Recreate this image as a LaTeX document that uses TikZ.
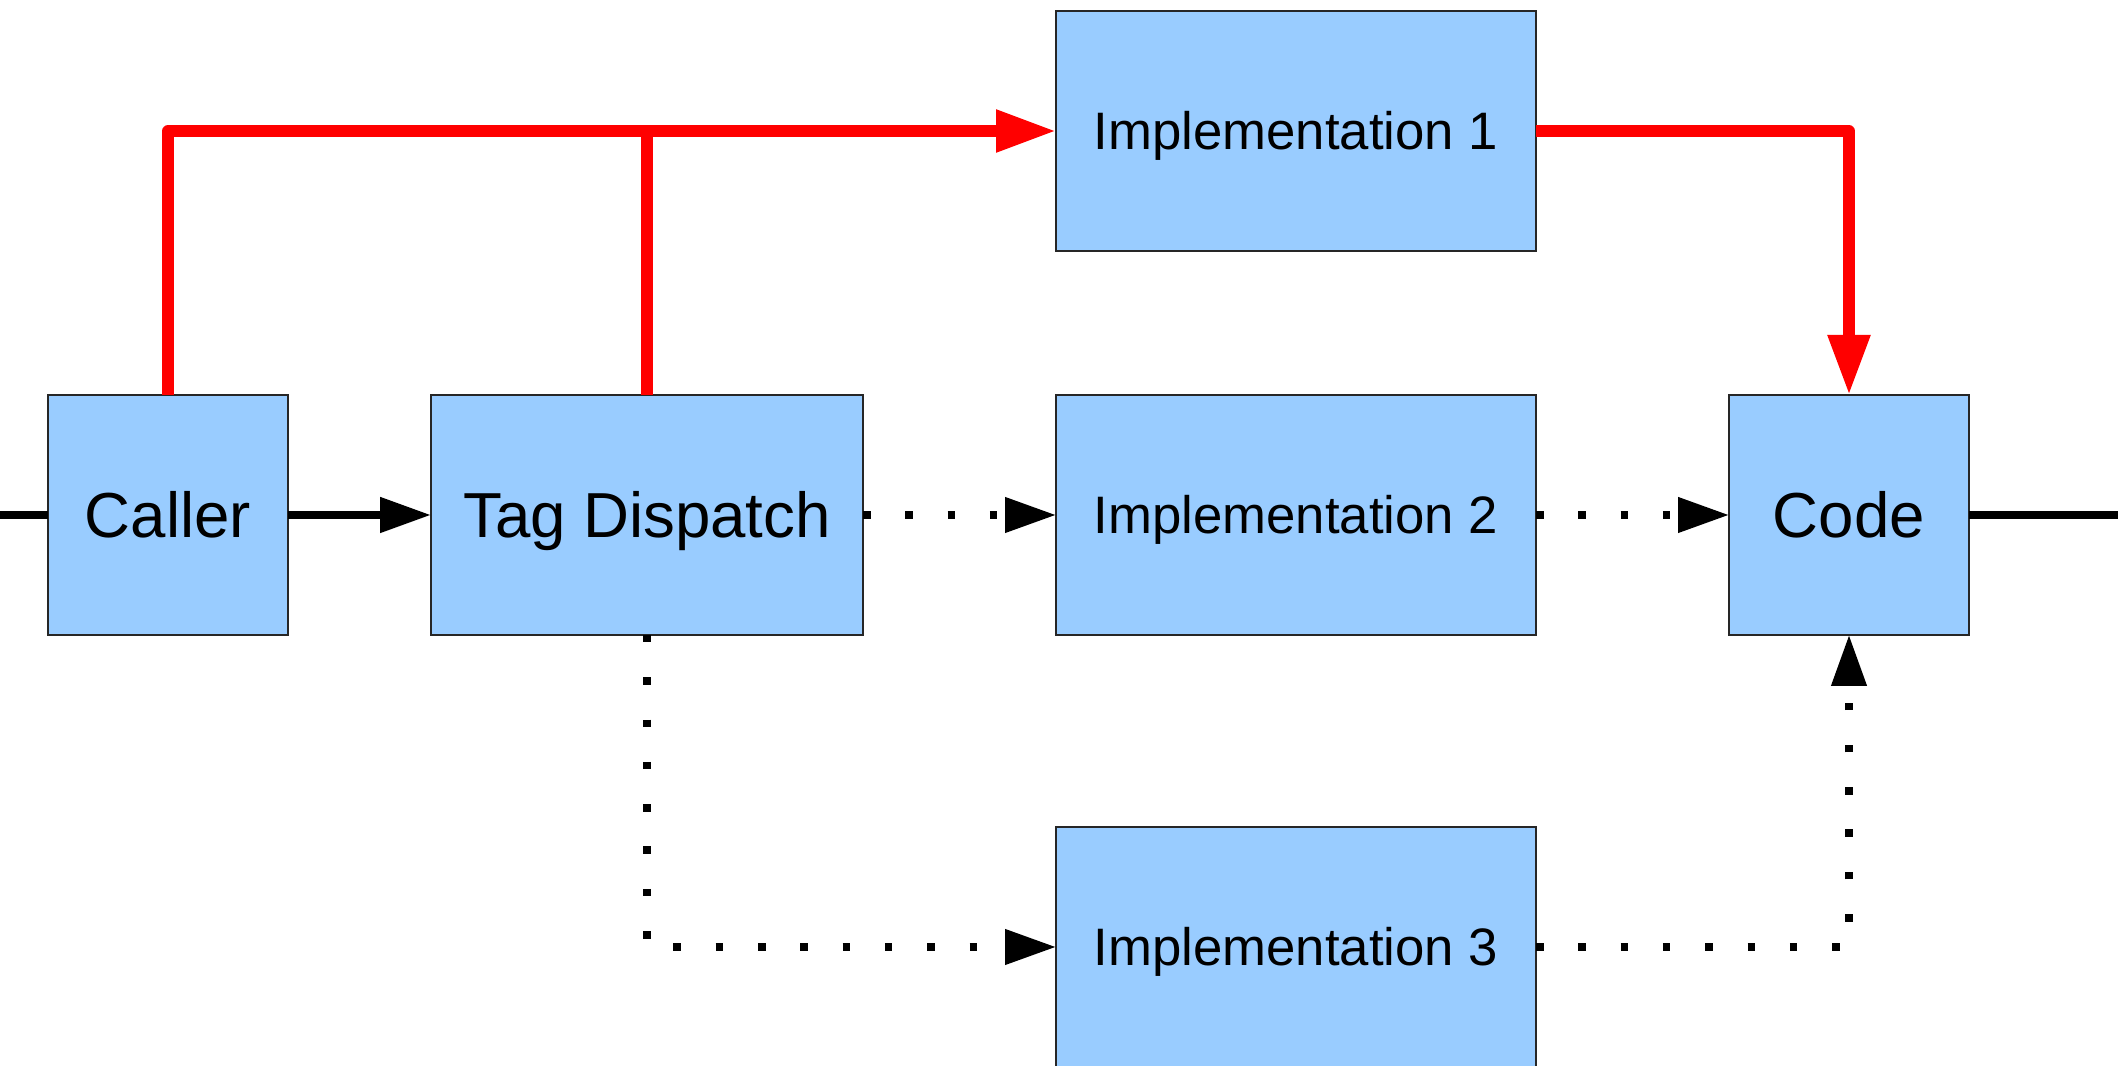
\documentclass[tikz,border=0pt]{standalone}
\usepackage{fontspec}
\setmainfont{Liberation Sans}
\usetikzlibrary{arrows.meta}
\definecolor{boxblue}{HTML}{99CCFF}
\definecolor{flowred}{HTML}{FF0000}
\tikzset{
  block/.style={draw=black!85, line width=0.5pt, fill=boxblue, inner sep=0pt, outer sep=0pt,
    minimum height=2.4cm, text height=13pt, text depth=0pt, font=\fontsize{18.1}{21}\selectfont},
  implblock/.style={block, minimum width=4.8cm, text height=10.7pt, font=\fontsize{15}{18}\selectfont},
  solidline/.style={line width=0.08cm},
  dotline/.style={line width=0.075cm, dash pattern=on 0.075cm off 0.348cm},
  redline/.style={line width=0.115cm, draw=flowred, line join=round},
  redtip/.style={-{Triangle[length=0.6cm,width=0.4cm]}}
}
\begin{document}
\begin{tikzpicture}[>={Triangle[length=0.51cm,width=0.34cm]}]
\useasboundingbox (0,0) rectangle (21.18,-10.66);
\node[block, minimum width=2.4cm] (caller) at (1.68,-5.15) {Caller};
\node[block, minimum width=4.32cm] (tag) at (6.47,-5.15) {Tag Dispatch};
\node[implblock] (impl1) at (12.96,-1.31) {Implementation 1};
\node[implblock] (impl2) at (12.96,-5.15) {Implementation 2};
\node[implblock] (impl3) at (12.96,-9.47) {Implementation 3};
\node[block, minimum width=2.4cm] (code) at (18.49,-5.15) {Code};

\coordinate (in) at (0,-5.15);
\coordinate (out) at (21.18,-5.15);

% main path
\draw[solidline] (in) -- (caller);
\draw[solidline,->] (caller) -- (tag);
\draw[solidline] (code) -- (out);

% dispatch alternatives
\draw[dotline,->] (tag) -- (impl2);
\draw[dotline,->] (impl2) -- (code);
\draw[dotline,->] (tag.south) |- (impl3.west);
\draw[dotline,->] (impl3.east) -| (code.south);

% chosen path
\draw[redline,redtip] (caller.north) |- (impl1.west);
\draw[redline] (tag.north) -- (tag.north |- impl1.west);
\draw[redline,redtip] (impl1.east) -| (code.north);
\end{tikzpicture}
\end{document}
